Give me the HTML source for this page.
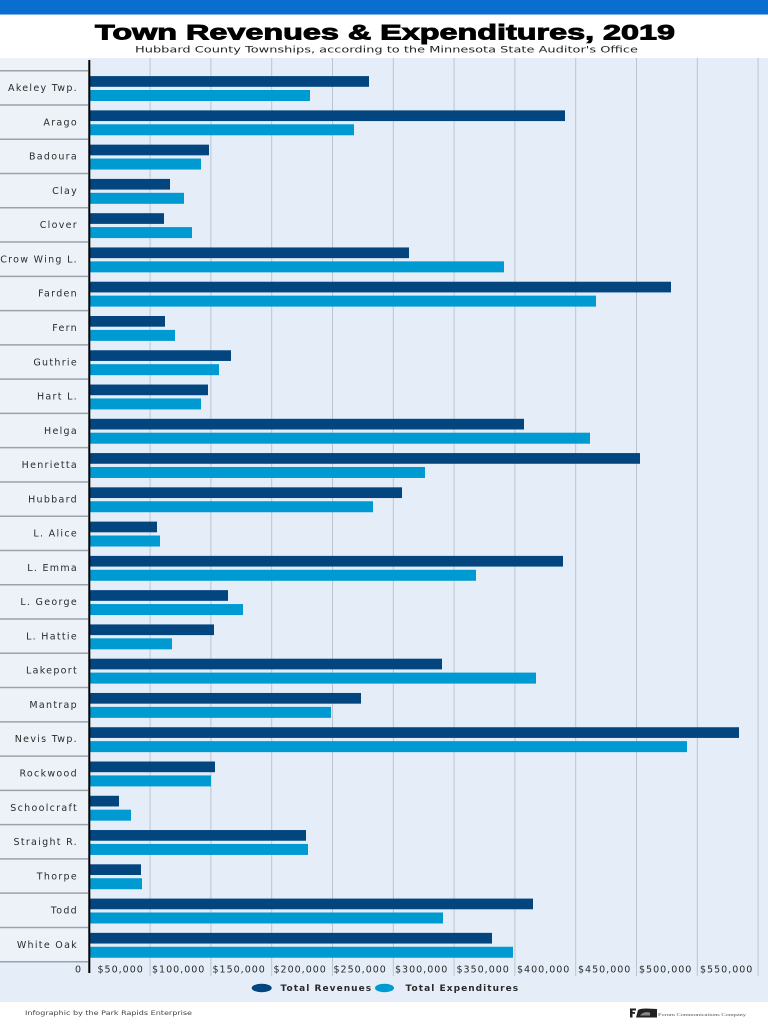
<!DOCTYPE html>
<html>
<head>
<meta charset="utf-8">
<style>
html,body{margin:0;padding:0;background:#fff;}
svg{display:block;}
.lbl{font-family:"DejaVu Sans","Liberation Sans",sans-serif;font-size:9.5px;letter-spacing:1.3px;fill:#2a2a2a;}
.ax{font-family:"DejaVu Sans","Liberation Sans",sans-serif;font-size:9.5px;letter-spacing:1px;fill:#2a2a2a;}
.lg{font-family:"DejaVu Sans","Liberation Sans",sans-serif;font-size:9px;letter-spacing:1.05px;fill:#2a2a2a;font-weight:bold;}
</style>
</head>
<body>
<svg width="768" height="1024" viewBox="0 0 768 1024" xmlns="http://www.w3.org/2000/svg">
  <rect x="0" y="0" width="768" height="1024" fill="#ffffff"/>
  <rect x="0" y="0" width="768" height="14" fill="#0a6ed1"/>
  <rect x="0" y="14" width="768" height="1" fill="#7fb2e6"/>

  <text x="95" y="39.5" font-family="'Liberation Sans',Arial,sans-serif" font-size="21.5" font-weight="bold" fill="#000" stroke="#000" stroke-width="0.9" textLength="580" lengthAdjust="spacingAndGlyphs">Town Revenues &amp; Expenditures, 2019</text>
  <text x="135" y="52.5" font-family="'DejaVu Sans','Liberation Sans',sans-serif" font-size="9" fill="#222" textLength="503" lengthAdjust="spacingAndGlyphs">Hubbard County Townships, according to the Minnesota State Auditor's Office</text>

  <!-- chart background -->
  <rect x="0" y="58" width="768" height="944" fill="#e5eef8"/>
  <rect x="0" y="58" width="88" height="904" fill="#edf2f9"/>

  <!-- gridlines -->
  <g stroke="#bcc5cf" stroke-width="1">
    <line x1="150.1" y1="58" x2="150.1" y2="976"/>
    <line x1="210.9" y1="58" x2="210.9" y2="976"/>
    <line x1="271.7" y1="58" x2="271.7" y2="976"/>
    <line x1="332.5" y1="58" x2="332.5" y2="976"/>
    <line x1="393.3" y1="58" x2="393.3" y2="976"/>
    <line x1="454.1" y1="58" x2="454.1" y2="976"/>
    <line x1="514.9" y1="58" x2="514.9" y2="976"/>
    <line x1="575.7" y1="58" x2="575.7" y2="976"/>
    <line x1="636.5" y1="58" x2="636.5" y2="976"/>
    <line x1="697.3" y1="58" x2="697.3" y2="976"/>
    <line x1="758.1" y1="58" x2="758.1" y2="976"/>
  </g>

  <!-- row separators -->
  <g stroke="#98a3ae" stroke-width="1.5">
    <line x1="0" y1="70.7" x2="88" y2="70.7"/>
    <line x1="0" y1="104.97" x2="88" y2="104.97"/>
    <line x1="0" y1="139.24" x2="88" y2="139.24"/>
    <line x1="0" y1="173.51" x2="88" y2="173.51"/>
    <line x1="0" y1="207.78" x2="88" y2="207.78"/>
    <line x1="0" y1="242.05" x2="88" y2="242.05"/>
    <line x1="0" y1="276.32" x2="88" y2="276.32"/>
    <line x1="0" y1="310.59" x2="88" y2="310.59"/>
    <line x1="0" y1="344.86" x2="88" y2="344.86"/>
    <line x1="0" y1="379.13" x2="88" y2="379.13"/>
    <line x1="0" y1="413.4" x2="88" y2="413.4"/>
    <line x1="0" y1="447.67" x2="88" y2="447.67"/>
    <line x1="0" y1="481.94" x2="88" y2="481.94"/>
    <line x1="0" y1="516.21" x2="88" y2="516.21"/>
    <line x1="0" y1="550.48" x2="88" y2="550.48"/>
    <line x1="0" y1="584.75" x2="88" y2="584.75"/>
    <line x1="0" y1="619.02" x2="88" y2="619.02"/>
    <line x1="0" y1="653.29" x2="88" y2="653.29"/>
    <line x1="0" y1="687.56" x2="88" y2="687.56"/>
    <line x1="0" y1="721.83" x2="88" y2="721.83"/>
    <line x1="0" y1="756.1" x2="88" y2="756.1"/>
    <line x1="0" y1="790.37" x2="88" y2="790.37"/>
    <line x1="0" y1="824.64" x2="88" y2="824.64"/>
    <line x1="0" y1="858.91" x2="88" y2="858.91"/>
    <line x1="0" y1="893.18" x2="88" y2="893.18"/>
    <line x1="0" y1="927.45" x2="88" y2="927.45"/>
    <line x1="0" y1="961.72" x2="88" y2="961.72"/>
  </g>

  <!-- rows -->
  <g transform="translate(0,70.7)"><text class="lbl" x="78" y="20.4" text-anchor="end">Akeley Twp.</text><rect x="89" y="5.4" width="280" height="10.7" fill="#02457f"/><rect x="89" y="19.3" width="221" height="11" fill="#009ad2"/></g>
  <g transform="translate(0,104.97)"><text class="lbl" x="78" y="20.4" text-anchor="end">Arago</text><rect x="89" y="5.4" width="476" height="10.7" fill="#02457f"/><rect x="89" y="19.3" width="265" height="11" fill="#009ad2"/></g>
  <g transform="translate(0,139.24)"><text class="lbl" x="78" y="20.4" text-anchor="end">Badoura</text><rect x="89" y="5.4" width="120" height="10.7" fill="#02457f"/><rect x="89" y="19.3" width="112" height="11" fill="#009ad2"/></g>
  <g transform="translate(0,173.51)"><text class="lbl" x="78" y="20.4" text-anchor="end">Clay</text><rect x="89" y="5.4" width="81" height="10.7" fill="#02457f"/><rect x="89" y="19.3" width="95" height="11" fill="#009ad2"/></g>
  <g transform="translate(0,207.78)"><text class="lbl" x="78" y="20.4" text-anchor="end">Clover</text><rect x="89" y="5.4" width="75" height="10.7" fill="#02457f"/><rect x="89" y="19.3" width="103" height="11" fill="#009ad2"/></g>
  <g transform="translate(0,242.05)"><text class="lbl" x="78" y="20.4" text-anchor="end">Crow Wing L.</text><rect x="89" y="5.4" width="320" height="10.7" fill="#02457f"/><rect x="89" y="19.3" width="415" height="11" fill="#009ad2"/></g>
  <g transform="translate(0,276.32)"><text class="lbl" x="78" y="20.4" text-anchor="end">Farden</text><rect x="89" y="5.4" width="582" height="10.7" fill="#02457f"/><rect x="89" y="19.3" width="507" height="11" fill="#009ad2"/></g>
  <g transform="translate(0,310.59)"><text class="lbl" x="78" y="20.4" text-anchor="end">Fern</text><rect x="89" y="5.4" width="76" height="10.7" fill="#02457f"/><rect x="89" y="19.3" width="86" height="11" fill="#009ad2"/></g>
  <g transform="translate(0,344.86)"><text class="lbl" x="78" y="20.4" text-anchor="end">Guthrie</text><rect x="89" y="5.4" width="142" height="10.7" fill="#02457f"/><rect x="89" y="19.3" width="130" height="11" fill="#009ad2"/></g>
  <g transform="translate(0,379.13)"><text class="lbl" x="78" y="20.4" text-anchor="end">Hart L.</text><rect x="89" y="5.4" width="119" height="10.7" fill="#02457f"/><rect x="89" y="19.3" width="112" height="11" fill="#009ad2"/></g>
  <g transform="translate(0,413.4)"><text class="lbl" x="78" y="20.4" text-anchor="end">Helga</text><rect x="89" y="5.4" width="435" height="10.7" fill="#02457f"/><rect x="89" y="19.3" width="501" height="11" fill="#009ad2"/></g>
  <g transform="translate(0,447.67)"><text class="lbl" x="78" y="20.4" text-anchor="end">Henrietta</text><rect x="89" y="5.4" width="551" height="10.7" fill="#02457f"/><rect x="89" y="19.3" width="336" height="11" fill="#009ad2"/></g>
  <g transform="translate(0,481.94)"><text class="lbl" x="78" y="20.4" text-anchor="end">Hubbard</text><rect x="89" y="5.4" width="313" height="10.7" fill="#02457f"/><rect x="89" y="19.3" width="284" height="11" fill="#009ad2"/></g>
  <g transform="translate(0,516.21)"><text class="lbl" x="78" y="20.4" text-anchor="end">L. Alice</text><rect x="89" y="5.4" width="68" height="10.7" fill="#02457f"/><rect x="89" y="19.3" width="71" height="11" fill="#009ad2"/></g>
  <g transform="translate(0,550.48)"><text class="lbl" x="78" y="20.4" text-anchor="end">L. Emma</text><rect x="89" y="5.4" width="474" height="10.7" fill="#02457f"/><rect x="89" y="19.3" width="387" height="11" fill="#009ad2"/></g>
  <g transform="translate(0,584.75)"><text class="lbl" x="78" y="20.4" text-anchor="end">L. George</text><rect x="89" y="5.4" width="139" height="10.7" fill="#02457f"/><rect x="89" y="19.3" width="154" height="11" fill="#009ad2"/></g>
  <g transform="translate(0,619.02)"><text class="lbl" x="78" y="20.4" text-anchor="end">L. Hattie</text><rect x="89" y="5.4" width="125" height="10.7" fill="#02457f"/><rect x="89" y="19.3" width="83" height="11" fill="#009ad2"/></g>
  <g transform="translate(0,653.29)"><text class="lbl" x="78" y="20.4" text-anchor="end">Lakeport</text><rect x="89" y="5.4" width="353" height="10.7" fill="#02457f"/><rect x="89" y="19.3" width="447" height="11" fill="#009ad2"/></g>
  <g transform="translate(0,687.56)"><text class="lbl" x="78" y="20.4" text-anchor="end">Mantrap</text><rect x="89" y="5.4" width="272" height="10.7" fill="#02457f"/><rect x="89" y="19.3" width="242" height="11" fill="#009ad2"/></g>
  <g transform="translate(0,721.83)"><text class="lbl" x="78" y="20.4" text-anchor="end">Nevis Twp.</text><rect x="89" y="5.4" width="650" height="10.7" fill="#02457f"/><rect x="89" y="19.3" width="598" height="11" fill="#009ad2"/></g>
  <g transform="translate(0,756.1)"><text class="lbl" x="78" y="20.4" text-anchor="end">Rockwood</text><rect x="89" y="5.4" width="126" height="10.7" fill="#02457f"/><rect x="89" y="19.3" width="122" height="11" fill="#009ad2"/></g>
  <g transform="translate(0,790.37)"><text class="lbl" x="78" y="20.4" text-anchor="end">Schoolcraft</text><rect x="89" y="5.4" width="30" height="10.7" fill="#02457f"/><rect x="89" y="19.3" width="42" height="11" fill="#009ad2"/></g>
  <g transform="translate(0,824.64)"><text class="lbl" x="78" y="20.4" text-anchor="end">Straight R.</text><rect x="89" y="5.4" width="217" height="10.7" fill="#02457f"/><rect x="89" y="19.3" width="219" height="11" fill="#009ad2"/></g>
  <g transform="translate(0,858.91)"><text class="lbl" x="78" y="20.4" text-anchor="end">Thorpe</text><rect x="89" y="5.4" width="52" height="10.7" fill="#02457f"/><rect x="89" y="19.3" width="53" height="11" fill="#009ad2"/></g>
  <g transform="translate(0,893.18)"><text class="lbl" x="78" y="20.4" text-anchor="end">Todd</text><rect x="89" y="5.4" width="444" height="10.7" fill="#02457f"/><rect x="89" y="19.3" width="354" height="11" fill="#009ad2"/></g>
  <g transform="translate(0,927.45)"><text class="lbl" x="78" y="20.4" text-anchor="end">White Oak</text><rect x="89" y="5.4" width="403" height="10.7" fill="#02457f"/><rect x="89" y="19.3" width="424" height="11" fill="#009ad2"/></g>

  <!-- axis line -->
  <rect x="88.3" y="60" width="2" height="913" fill="#000"/>

  <!-- axis labels -->
  <text class="ax" x="82" y="972.3" text-anchor="end">0</text>
  <text class="ax" x="97.5" y="972.3">$50,000</text>
  <text class="ax" x="152" y="972.3">$100,000</text>
  <text class="ax" x="212.5" y="972.3">$150,000</text>
  <text class="ax" x="273.5" y="972.3">$200,000</text>
  <text class="ax" x="333.5" y="972.3">$250,000</text>
  <text class="ax" x="395" y="972.3">$300,000</text>
  <text class="ax" x="456.5" y="972.3">$350,000</text>
  <text class="ax" x="517" y="972.3">$400,000</text>
  <text class="ax" x="578" y="972.3">$450,000</text>
  <text class="ax" x="639" y="972.3">$500,000</text>
  <text class="ax" x="700" y="972.3">$550,000</text>

  <!-- legend -->
  <ellipse cx="261.7" cy="988" rx="10" ry="4.2" fill="#02457f"/>
  <text class="lg" x="280.5" y="991">Total Revenues</text>
  <ellipse cx="384.5" cy="988" rx="9.5" ry="4.2" fill="#009ad2"/>
  <text class="lg" x="405.5" y="991">Total Expenditures</text>

  <!-- footer -->
  <text x="25" y="1015" font-family="'DejaVu Sans','Liberation Sans',sans-serif" font-size="6" fill="#444" textLength="167" lengthAdjust="spacingAndGlyphs">Infographic by the Park Rapids Enterprise</text>
  <g>
    <rect x="630" y="1008.5" width="2.5" height="9" fill="#222"/>
    <rect x="630" y="1008.5" width="6" height="2" fill="#222"/>
    <rect x="630" y="1012" width="5" height="1.8" fill="#222"/>
    <path d="M636 1017.5 L638 1010 Q640 1008.5 646 1008.5 L657 1009 L657 1017.5 Z" fill="#222"/>
    <path d="M640 1015.5 Q643 1011 650 1012.5 L650 1015.5 Z" fill="#888"/>
  </g>
  <text x="658" y="1016" font-family="'Liberation Serif',serif" font-size="4.5" fill="#555" textLength="88" lengthAdjust="spacingAndGlyphs">Forum Communications Company</text>
</svg>
</body>
</html>
